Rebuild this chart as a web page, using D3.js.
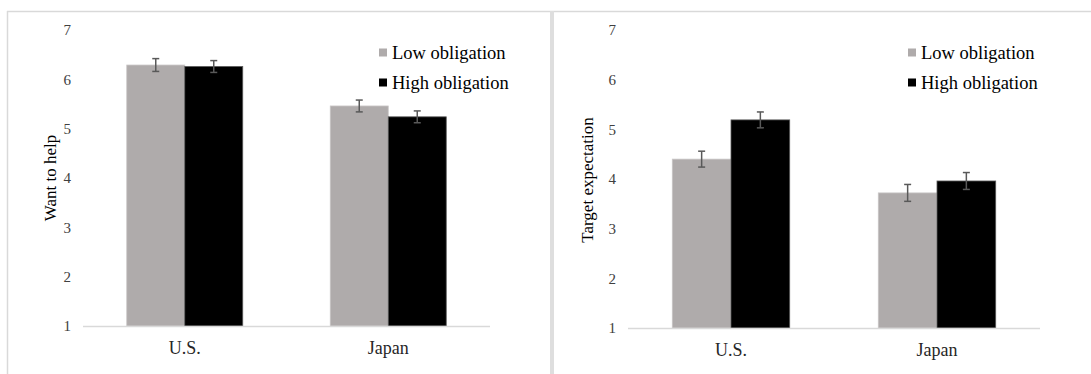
<!DOCTYPE html>
<html>
<head>
<meta charset="utf-8">
<script src="https://cdn.jsdelivr.net/npm/d3@7"></script>
<style>
  html, body { margin: 0; padding: 0; background: #fff; }
  svg { display: block; }
</style>
</head>
<body>
<svg id="chart" width="1091" height="374" font-family="'Liberation Serif', 'Times New Roman', Times, 'DejaVu Serif', serif"></svg>
<script>
// Categories and series
const countries = ["U.S.", "Japan"];
const seriesNames = ["Low obligation", "High obligation"];
const seriesColors = ["#afabab", "#000000"];
const yTicks = [1, 2, 3, 4, 5, 6, 7];

// Want to help: means and error half-widths, per country [low, high]
const helpMeans = [[6.29, 6.26], [5.46, 5.24]];
const helpErrors = [[0.13, 0.12], [0.12, 0.12]];

// Target expectation: means and error half-widths, per country [low, high]
const expectMeans = [[4.40, 5.19], [3.72, 3.96]];
const expectErrors = [[0.16, 0.16], [0.17, 0.17]];

const FONT = "'Liberation Serif', 'Times New Roman', Times, 'DejaVu Serif', serif";

const svg = d3.select("#chart");

// Panel frame lines
const frame = svg.append("g");
frame.append("line").attr("x1", 7).attr("x2", 1091).attr("y1", 11.5).attr("y2", 11.5)
  .attr("stroke", "#d9d9d9").attr("stroke-width", 1.5);
frame.append("line").attr("x1", 7.5).attr("x2", 7.5).attr("y1", 11).attr("y2", 374)
  .attr("stroke", "#d9d9d9").attr("stroke-width", 1.5);
frame.append("rect").attr("x", 550).attr("y", 11).attr("width", 4).attr("height", 363)
  .attr("fill", "#dedede");

function drawPanel(cfg) {
  const g = svg.append("g").attr("font-family", FONT);
  const x = d3.scaleBand().domain(countries).range([cfg.x0, cfg.x1]);
  const y = d3.scaleLinear().domain([1, 7]).range([cfg.yBase, cfg.yTop]);
  const groupW = x.bandwidth() * 0.57;
  const xs = d3.scaleBand().domain(seriesNames).range([-groupW / 2, groupW / 2]);

  // Y tick labels
  g.selectAll(".tick").data(yTicks).join("text")
    .attr("font-family", FONT)
    .attr("x", cfg.tickX).attr("y", d => y(d)).attr("dy", "0.35em")
    .attr("text-anchor", "end").attr("font-size", 15).attr("fill", "#404040")
    .text(d => d);

  // Bars
  const rows = [];
  countries.forEach((c, i) => {
    seriesNames.forEach((s, j) => {
      rows.push({ c, s, j, v: cfg.means[i][j], e: cfg.errors[i][j] });
    });
  });
  g.selectAll(".bar").data(rows).join("rect")
    .attr("x", d => x(d.c) + x.bandwidth() / 2 + xs(d.s))
    .attr("y", d => y(d.v))
    .attr("width", xs.bandwidth())
    .attr("height", d => y(1) - y(d.v))
    .attr("fill", d => seriesColors[d.j])
    .attr("stroke", d => d.j === 1 ? "#595959" : "#c9c6c6")
    .attr("stroke-width", 0.8);

  // Baseline axis
  g.append("line").attr("x1", cfg.x0).attr("x2", cfg.x1)
    .attr("y1", y(1) + 0.5).attr("y2", y(1) + 0.5)
    .attr("stroke", "#d9d9d9").attr("stroke-width", 1.5);

  // Error bars
  const eb = g.selectAll(".err").data(rows).join("g")
    .attr("transform", d => `translate(${x(d.c) + x.bandwidth() / 2 + xs(d.s) + xs.bandwidth() / 2},0)`);
  eb.append("line").attr("x1", 0).attr("x2", 0)
    .attr("y1", d => y(d.v + d.e)).attr("y2", d => y(d.v - d.e))
    .attr("stroke", "#595959").attr("stroke-width", 1.5);
  eb.append("line").attr("x1", -3.5).attr("x2", 3.5)
    .attr("y1", d => y(d.v + d.e)).attr("y2", d => y(d.v + d.e))
    .attr("stroke", "#595959").attr("stroke-width", 1.5);
  eb.append("line").attr("x1", -3.5).attr("x2", 3.5)
    .attr("y1", d => y(d.v - d.e)).attr("y2", d => y(d.v - d.e))
    .attr("stroke", "#595959").attr("stroke-width", 1.5);

  // Category labels
  g.selectAll(".cat").data(countries).join("text")
    .attr("font-family", FONT)
    .attr("x", d => x(d) + x.bandwidth() / 2).attr("y", cfg.yBase + 22).attr("dy", "0.35em")
    .attr("text-anchor", "middle").attr("font-size", 18).attr("fill", "#262626")
    .text(d => d);

  // Y-axis title
  g.append("text")
    .attr("font-family", FONT)
    .attr("transform", `translate(${cfg.titleX},${cfg.titleY}) rotate(-90)`)
    .attr("text-anchor", "middle").attr("dy", "0.35em")
    .attr("font-size", 17).attr("fill", "#000")
    .text(cfg.title);

  // Legend
  const lg = g.selectAll(".leg").data(seriesNames).join("g")
    .attr("transform", (d, i) => `translate(${cfg.legX},${53 + i * 30})`);
  lg.append("rect").attr("x", 0).attr("y", -4.5).attr("width", 8).attr("height", 8)
    .attr("fill", (d, i) => seriesColors[i]);
  lg.append("text").attr("x", 13).attr("y", 0).attr("dy", "0.35em")
    .attr("font-family", FONT)
    .attr("font-size", 18.5).attr("fill", "#000")
    .text(d => d);
}

drawPanel({
  x0: 83, x1: 490, yBase: 326, yTop: 30, tickX: 71,
  means: helpMeans, errors: helpErrors,
  title: "Want to help", titleX: 50, titleY: 178, legX: 379
});

drawPanel({
  x0: 628, x1: 1040, yBase: 328, yTop: 30, tickX: 616,
  means: expectMeans, errors: expectErrors,
  title: "Target expectation", titleX: 587, titleY: 180, legX: 908
});
</script>
</body>
</html>
